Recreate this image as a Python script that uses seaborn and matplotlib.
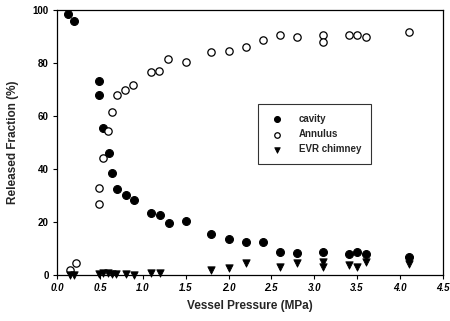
import matplotlib
matplotlib.use("Agg")
import matplotlib.pyplot as plt
import seaborn as sns
import pandas as pd

# Released fraction of fission products vs. vessel pressure
cavity_p = [0.13, 0.2, 0.49, 0.49, 0.53, 0.6, 0.64, 0.7, 0.8, 0.9, 1.1, 1.2, 1.3,
            1.5, 1.8, 2.0, 2.2, 2.4, 2.6, 2.8, 3.1, 3.4, 3.5, 3.6, 4.1]
cavity_f = [98.5, 96.0, 73.3, 67.8, 55.6, 45.9, 38.4, 32.6, 30.3, 28.3, 23.3, 22.6, 19.5,
            20.4, 15.4, 13.8, 12.5, 12.5, 8.6, 8.4, 8.6, 7.9, 8.6, 7.9, 7.0]

annulus_p = [0.15, 0.22, 0.49, 0.49, 0.54, 0.59, 0.64, 0.7, 0.79, 0.89, 1.09, 1.19, 1.29,
             1.5, 1.8, 2.0, 2.2, 2.4, 2.6, 2.8, 3.1, 3.1, 3.4, 3.5, 3.6, 4.1]
annulus_f = [1.9, 4.7, 27.0, 32.9, 44.0, 54.5, 61.4, 67.9, 69.8, 71.6, 76.7, 77.1, 81.4,
             80.5, 84.0, 84.6, 86.1, 88.7, 90.6, 89.7, 90.6, 88.0, 90.6, 90.6, 89.9, 91.8]

evr_p = [0.15, 0.2, 0.49, 0.54, 0.59, 0.64, 0.69, 0.8, 0.9, 1.1, 1.2, 1.8, 2.0, 2.2,
         2.6, 2.8, 3.1, 3.1, 3.4, 3.5, 3.6, 4.1, 4.1]
evr_f = [0.0, 0.0, 0.5, 0.8, 0.8, 0.6, 0.5, 0.3, 0.2, 0.8, 0.8, 1.9, 2.8, 4.4,
         2.9, 4.4, 5.0, 2.9, 3.8, 2.9, 4.8, 5.7, 4.2]

x_ticks = [0.0, 0.5, 1.0, 1.5, 2.0, 2.5, 3.0, 3.5, 4.0, 4.5]
y_ticks = [0, 20, 40, 60, 80, 100]

sns.set_style("ticks")
plt.rcParams["font.family"] = ["Liberation Sans", "DejaVu Sans"]

fig = plt.figure(figsize=(4.5, 3.21), dpi=100)
ax = fig.add_axes([0.127, 0.143, 0.857, 0.826])

df_c = pd.DataFrame({"p": cavity_p, "f": cavity_f})
df_a = pd.DataFrame({"p": annulus_p, "f": annulus_f})
df_e = pd.DataFrame({"p": evr_p, "f": evr_f})

sns.scatterplot(data=df_c, x="p", y="f", ax=ax, marker="o", s=32,
                color="black", edgecolor="black", linewidth=0.8, label="cavity",
                clip_on=False, zorder=3)
sns.scatterplot(data=df_a, x="p", y="f", ax=ax, marker="o", s=28,
                facecolor="white", edgecolor="black", linewidth=0.9, label="Annulus",
                clip_on=False, zorder=3)
sns.scatterplot(data=df_e, x="p", y="f", ax=ax, marker="v", s=28,
                color="black", edgecolor="black", linewidth=0.6, label="EVR chimney",
                clip_on=False, zorder=3)

ax.set_xlim(0, 4.5)
ax.set_ylim(0, 100)
ax.set_xticks(x_ticks)
ax.set_xticklabels([f"{t:.1f}" for t in x_ticks])
ax.set_yticks(y_ticks)
ax.set_yticklabels([str(t) for t in y_ticks])

for side in ["top", "right", "left", "bottom"]:
    ax.spines[side].set_visible(True)
    ax.spines[side].set_color("black")
    ax.spines[side].set_linewidth(0.9)

ax.tick_params(axis="both", direction="out", length=3, width=0.8,
               labelsize=7, colors="black", pad=3)
for lbl in ax.get_xticklabels():
    lbl.set_fontstyle("italic")
    lbl.set_fontweight("bold")
for lbl in ax.get_yticklabels():
    lbl.set_fontweight("bold")

ax.set_xlabel("Vessel Pressure (MPa)", fontsize=8.5, fontweight="bold", labelpad=5)
ax.set_ylabel("Released Fraction (%)", fontsize=8.5, fontweight="bold", labelpad=10)

leg = ax.legend(loc="upper left", bbox_to_anchor=(0.52, 0.645), frameon=True,
                fancybox=False, fontsize=7, handletextpad=1.2, borderpad=1.0,
                labelspacing=0.55, borderaxespad=0, markerscale=0.75,
                handlelength=2.0)
leg.get_frame().set_edgecolor("black")
leg.get_frame().set_linewidth(0.8)
for t in leg.get_texts():
    t.set_fontweight("bold")

fig.savefig("out.png", dpi=100)
